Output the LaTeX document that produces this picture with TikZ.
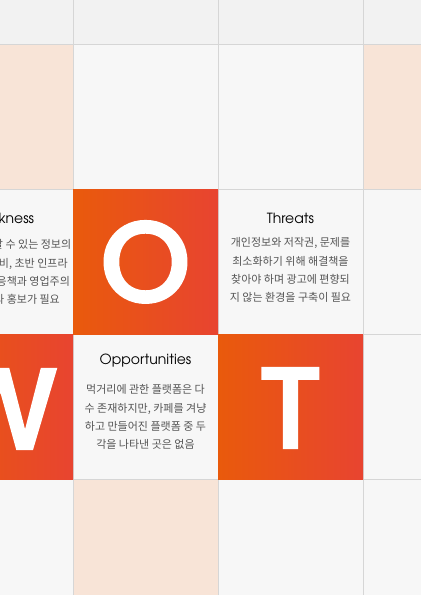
\documentclass[tikz,border=0pt]{standalone}
\usepackage{fontspec}
\newfontfamily\krfont{Noto Sans CJK KR}
\newfontfamily\titlefont{TeX Gyre Adventor}
\newfontfamily\bigfont{Poppins Medium}[FakeBold=2]
\definecolor{bgmain}{HTML}{F7F7F7}
\definecolor{bgtop}{HTML}{F2F2F2}
\definecolor{peach}{HTML}{F8E4D7}
\definecolor{gridgray}{HTML}{D6D6D6}
\definecolor{redL}{HTML}{E95A0C}
\definecolor{redR}{HTML}{E84430}
\definecolor{bodygray}{HTML}{555555}
\tikzset{
  gridline/.style={draw=gridgray, line width=1pt},
  redcell/.style={left color=redL, right color=redR, draw=none},
  peachcell/.style={fill=peach, draw=none},
  bigletter/.style={font=\bigfont\fontsize{115}{120}\selectfont, text=white, inner sep=0pt, anchor=base},
  titletext/.style={font=\titlefont\fontsize{14}{16}\selectfont, text=black, inner sep=0pt, anchor=base},
  bodytext/.style={font=\krfont\fontsize{11}{18.2}\selectfont, text=bodygray, align=center, inner sep=0pt}
}
\begin{document}
\begin{tikzpicture}[x=1pt,y=-1pt]
\useasboundingbox (0,0) rectangle (421,595);
% paper background
\fill[bgmain] (0,0) rectangle (421,595);
\fill[bgtop] (0,0) rectangle (421,44);
% peach cells
\fill[peachcell] (0,44) rectangle (73,189);
\fill[peachcell] (363,44) rectangle (421,189);
\fill[peachcell] (73,479) rectangle (218,595);
% grid lines
\foreach \gx in {73,218,363} { \draw[gridline] (\gx,0) -- (\gx,595); }
\foreach \gy in {44,189,334,479} { \draw[gridline] (0,\gy) -- (421,\gy); }
% red cells
\fill[redcell] (73,189) rectangle (218,334);
\fill[redcell] (-72,334) rectangle (73,479);
\fill[redcell] (218,334) rectangle (363,479);
% big letters
\node[bigletter] (letterO) at (145.5,302) {O};
\node[bigletter] (letterW) at (0.5,449) {W};
\node[bigletter] (letterT) at (290.5,448) {T};
% titles
\node[titletext] (weakness) at (0.5,223) {Weakness};
\node[titletext] (threats) at (290.5,223) {Threats};
\node[titletext] (opportunities) at (145.5,364) {Opportunities};
% body texts
\node[bodytext] (weakbody) at (0.5,272) {검증되고 신뢰할 수 있는 정보의\\데이터 확보 미비, 초반 인프라\\구축을 위한 대응책과 영업주의\\사용자 유입과 홍보가 필요};
\node[bodytext] (threatsbody) at (290.5,270) {개인정보와 저작권, 문제를\\최소화하기 위해 해결책을\\찾아야 하며 광고에 편향되\\지 않는 환경을 구축이 필요};
\node[bodytext] (oppbody) at (145.5,417) {먹거리에 관한 플랫폼은 다\\수 존재하지만, 카페를 겨냥\\하고 만들어진 플랫폼 중 두\\각을 나타낸 곳은 없음};
\end{tikzpicture}
\end{document}
